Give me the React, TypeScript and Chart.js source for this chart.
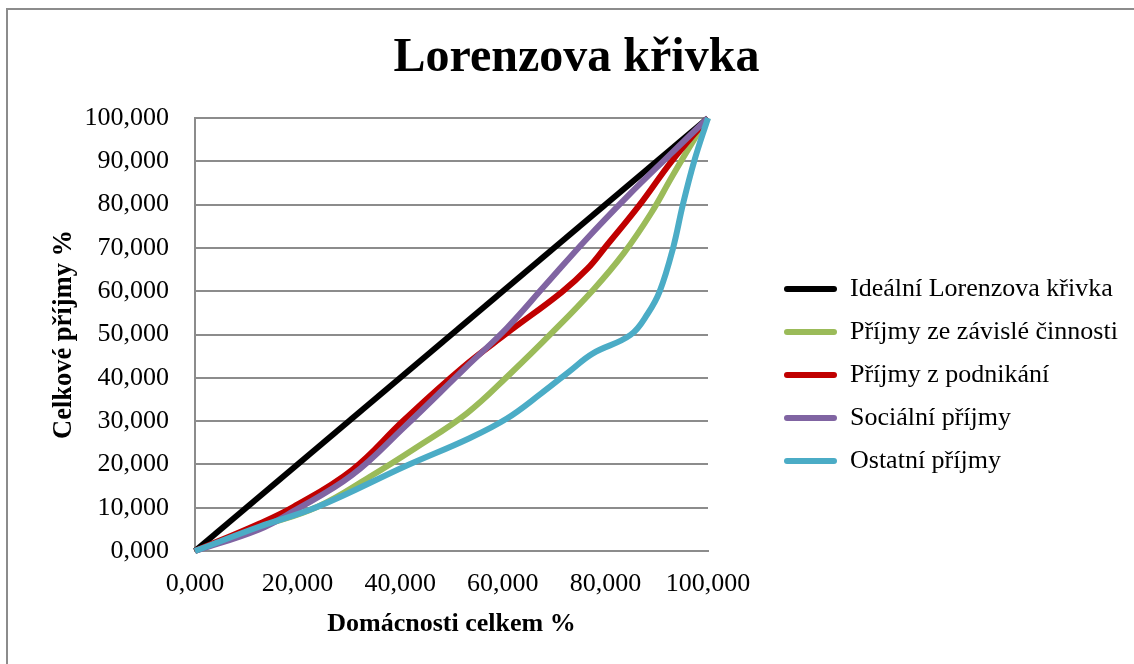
import React, { useEffect, useRef } from 'react';
import { Chart, registerables } from 'chart.js';

Chart.register(...registerables);

const FONT = "'Liberation Serif', 'Times New Roman', serif";

const seriesNames = [
  'Ideální Lorenzova křivka',
  'Příjmy ze závislé činnosti',
  'Příjmy z podnikání',
  'Sociální příjmy',
  'Ostatní příjmy',
];
const seriesColors = ['#000000', '#9BBB59', '#C00000', '#8064A2', '#4BACC6'];

const idealX = [0, 100];
const idealY = [0, 100];

const zavisleX = [0, 12, 24, 34, 43, 53, 61.5, 69.5, 77.6, 83.6, 88.9, 93, 97.7, 100];
const zavisleY = [0, 5.3, 10.3, 17.1, 23.8, 31.8, 41, 50.3, 60.3, 68.8, 78, 86.5, 95.8, 100];

const podnikaniX = [0, 12.5, 19.2, 30.6, 40.7, 52.1, 60.8, 71.5, 76.5, 80.2, 86.7, 92.9, 100];
const podnikaniY = [0, 6.3, 10.2, 18.7, 30.2, 42.3, 50.3, 59.8, 65.2, 70.5, 80, 90, 100];

const socialniX = [0, 12.5, 19.2, 30.6, 40.7, 52.7, 60.8, 68.2, 76.2, 84.3, 92.3, 100];
const socialniY = [0, 5.0, 9.2, 17.5, 28.5, 42.3, 51.5, 61.3, 71.9, 81.9, 91.2, 100];

const ostatniX = [0, 12.5, 23.9, 41.4, 53.4, 60.8, 67.5, 73, 77.5, 84.9, 88.3, 90.6, 93.2, 95.1, 97.3, 100];
const ostatniY = [0, 5.6, 10.2, 19.8, 26, 30.6, 36.4, 41.5, 45.6, 49.9, 54.9, 60, 70, 80, 90, 100];

const seriesX = [idealX, zavisleX, podnikaniX, socialniX, ostatniX];
const seriesY = [idealY, zavisleY, podnikaniY, socialniY, ostatniY];

const xTickValues = [0, 20, 40, 60, 80, 100];
const yTickValues = [0, 10, 20, 30, 40, 50, 60, 70, 80, 90, 100];

const fmt = (v: number) => Number(v).toFixed(3).replace('.', ',');

const legendPlacer = {
  id: 'legendPlacer',
  beforeLayout(chart: any) {
    const lg = chart.legend;
    if (lg && !lg.__patched) {
      const orig = lg.fit.bind(lg);
      lg.fit = function () {
        orig();
        this.width = 1134 - 708;
      };
      lg.__patched = true;
    }
  },
  afterLayout(chart: any) {
    const lg = chart.legend;
    if (!lg) return;
    lg.left = 767;
    lg.right = 1134;
    lg.top = 259;
    lg.bottom = 664;
    lg.width = lg.right - lg.left;
    lg.height = lg.bottom - lg.top;
  },
};

export default function App() {
  const ref = useRef<HTMLCanvasElement | null>(null);

  useEffect(() => {
    if (!ref.current) return;
    const datasets = seriesNames.map((name, i) => ({
      label: name,
      data: seriesX[i].map((x, j) => ({ x, y: seriesY[i][j] })),
      borderColor: seriesColors[i],
      backgroundColor: seriesColors[i],
      borderWidth: 6,
      pointRadius: 0,
      pointHoverRadius: 0,
      tension: 0.4,
      fill: false,
      clip: false as any,
      order: seriesNames.length - i,
    }));

    const chart = new Chart(ref.current, {
      type: 'line',
      data: { datasets },
      plugins: [legendPlacer],
      options: {
        responsive: false,
        animation: false,
        events: [],
        layout: { padding: { left: 19, right: 0, top: 0, bottom: 0 } },
        plugins: {
          title: {
            display: true,
            text: 'Lorenzova křivka',
            color: '#000',
            font: { family: FONT, size: 48, weight: 'bold' },
            padding: { top: 30, bottom: 30.4 },
          },
          legend: {
            display: true,
            position: 'right',
            align: 'start',
            fullSize: false,
            labels: {
              color: '#000',
              font: { family: FONT, size: 26 },
              boxWidth: 53,
              boxHeight: 6,
              padding: 17,
              useBorderRadius: true,
              borderRadius: 3,
              sort: (a: any, b: any) => a.datasetIndex - b.datasetIndex,
              generateLabels: (c: any) =>
                c.data.datasets.map((ds: any, i: number) => ({
                  text: ds.label,
                  fillStyle: ds.borderColor,
                  strokeStyle: ds.borderColor,
                  lineWidth: 0,
                  hidden: false,
                  datasetIndex: i,
                  fontColor: '#000',
                  borderRadius: 3,
                })),
            },
          },
          tooltip: { enabled: false },
        },
        scales: {
          x: {
            type: 'linear',
            min: 0,
            max: 100,
            afterBuildTicks: (s: any) => {
              s.ticks = xTickValues.map((v) => ({ value: v }));
            },
            afterFit: (s: any) => {
              s.height = 664 - 551;
            },
            grid: { display: false, drawTicks: false },
            border: { display: true, color: '#8c8c8c', width: 2 },
            ticks: {
              color: '#000',
              font: { family: FONT, size: 26 },
              padding: 18,
              maxRotation: 0,
              autoSkip: false,
              callback: (v: any) => fmt(v),
            },
            title: {
              display: true,
              text: 'Domácnosti celkem %',
              color: '#000',
              font: { family: FONT, size: 26, weight: 'bold' },
              padding: { top: 4, bottom: 24 },
            },
          },
          y: {
            type: 'linear',
            min: 0,
            max: 100,
            afterBuildTicks: (s: any) => {
              s.ticks = yTickValues.map((v) => ({ value: v }));
            },
            afterFit: (s: any) => {
              s.width = 195 - 19;
            },
            grid: { display: true, color: '#8c8c8c', lineWidth: 2, drawTicks: false },
            border: { display: true, color: '#8c8c8c', width: 2 },
            ticks: {
              color: '#000',
              font: { family: FONT, size: 26 },
              padding: 26,
              autoSkip: false,
              callback: (v: any) => fmt(v),
            },
            title: {
              display: true,
              text: 'Celkové příjmy %',
              color: '#000',
              font: { family: FONT, size: 26.5, weight: 'bold' },
              padding: { top: 29, bottom: 4 },
            },
          },
        },
      } as any,
    });
    return () => chart.destroy();
  }, []);

  return (
    <div style={{ position: 'fixed', left: 0, top: 0, width: 1134, height: 664, background: '#fff' }}>
      <div
        style={{
          position: 'absolute',
          left: 6,
          top: 8,
          width: 1134,
          height: 664,
          borderLeft: '2px solid #8c8c8c',
          borderTop: '2px solid #8c8c8c',
        }}
      />
      <canvas ref={ref} width={1134} height={664} style={{ position: 'absolute', left: 0, top: 0, display: 'block' }} />
    </div>
  );
}
